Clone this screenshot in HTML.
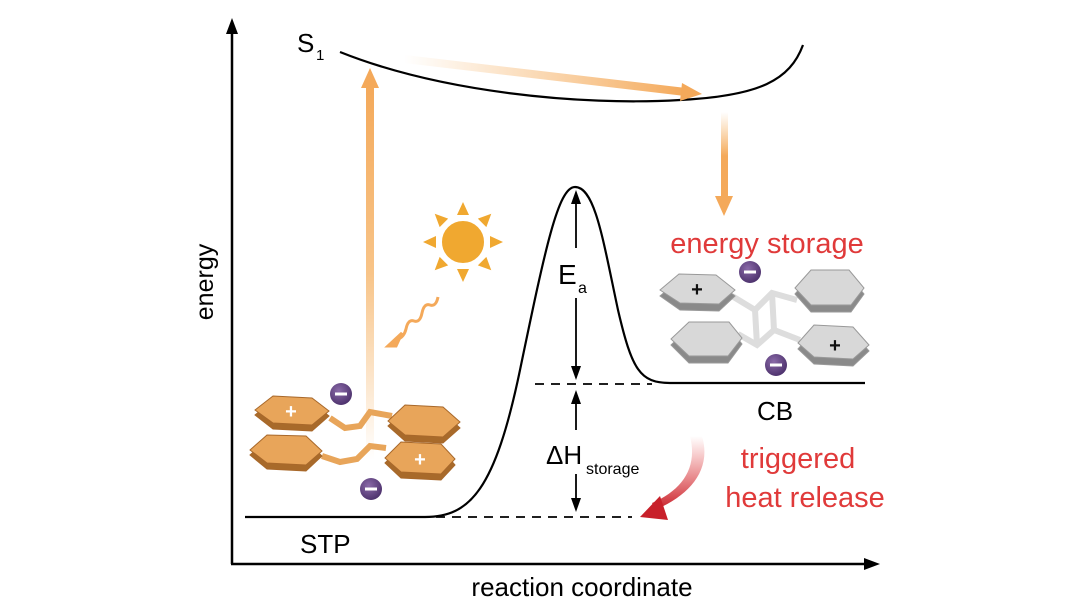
<!DOCTYPE html>
<html><head><meta charset="utf-8"><style>
html,body{margin:0;padding:0;background:#fff;width:1080px;height:608px;overflow:hidden}
svg{display:block}
text{font-family:"Liberation Sans",sans-serif}
</style></head><body>
<svg width="1080" height="608" viewBox="0 0 1080 608" xmlns="http://www.w3.org/2000/svg">
<defs>
<linearGradient id="gv" x1="0" y1="1" x2="0" y2="0"><stop offset="0" stop-color="#f6b56a" stop-opacity="0"/><stop offset="0.5" stop-color="#f6b56a" stop-opacity="0.8"/><stop offset="1" stop-color="#f4a95a"/></linearGradient>
<linearGradient id="gh" x1="0" y1="0" x2="1" y2="0"><stop offset="0" stop-color="#f6b56a" stop-opacity="0"/><stop offset="1" stop-color="#f4a95a"/></linearGradient>
<linearGradient id="gd" x1="0" y1="0" x2="0" y2="1"><stop offset="0" stop-color="#f6b56a" stop-opacity="0"/><stop offset="0.5" stop-color="#f4a95a"/><stop offset="1" stop-color="#f4a95a"/></linearGradient>
<linearGradient id="gr" x1="0" y1="0" x2="0" y2="1"><stop offset="0" stop-color="#e84040" stop-opacity="0"/><stop offset="1" stop-color="#c8202a"/></linearGradient>
<radialGradient id="gm" cx="0.4" cy="0.35" r="0.7"><stop offset="0" stop-color="#8a6aa8"/><stop offset="1" stop-color="#4a2f6a"/></radialGradient>
</defs>
<line x1="232" y1="30" x2="232" y2="564" stroke="#000" stroke-width="2.5"/>
<polygon points="232,18 226,34 238,34" fill="#000"/>
<line x1="231" y1="564" x2="866" y2="564" stroke="#000" stroke-width="2.5"/>
<polygon points="880,564 864,558 864,570" fill="#000"/>
<text x="0" y="0" font-size="25" transform="translate(213,282) rotate(-90)" text-anchor="middle">energy</text>
<text x="582" y="596" font-size="26" text-anchor="middle">reaction coordinate</text>
<text x="297" y="52" font-size="26">S</text><text x="316" y="60" font-size="15">1</text>
<path d="M340,52 C440,92 580,106 680,100 C760,96 790,80 803,45" fill="none" stroke="#000" stroke-width="2.2"/>
<path d="M245,517 L425,517 C470,517 495,490 520,370 C545,250 558,187 575,187 C595,187 603,240 618,310 C632,370 640,383 670,383 L865,383" fill="none" stroke="#000" stroke-width="2.2"/>
<line x1="535" y1="384" x2="652" y2="384" stroke="#000" stroke-width="1.8" stroke-dasharray="9,7"/>
<line x1="436" y1="517" x2="632" y2="517" stroke="#000" stroke-width="1.8" stroke-dasharray="9,7"/>
<g stroke="#000" stroke-width="1.8">
<line x1="576" y1="200" x2="576" y2="248"/><line x1="576" y1="298" x2="576" y2="370"/>
<line x1="576" y1="400" x2="576" y2="430"/><line x1="576" y1="474" x2="576" y2="502"/>
</g>
<g fill="#000">
<polygon points="576,190 571,204 581,204"/><polygon points="576,380 571,366 581,366"/>
<polygon points="576,390 571,404 581,404"/><polygon points="576,512 571,498 581,498"/>
</g>
<text x="558" y="284" font-size="28">E</text><text x="578" y="293" font-size="16">a</text>
<text x="546" y="464" font-size="26">ΔH</text><text x="586" y="474" font-size="16">storage</text>
<rect x="366" y="85" width="8" height="375" fill="url(#gv)"/>
<polygon points="370,68 361,88 379,88" fill="#f4a95a"/>
<polygon points="405,55 686,88 685,96 404,63" fill="url(#gh)"/>
<polygon points="702,94 682,83 680,101" fill="#f4a95a"/>
<rect x="721" y="112" width="7" height="88" fill="url(#gd)"/>
<polygon points="724,216 715,196 733,196" fill="#f4a95a"/>
<g fill="#f0a830">
<circle cx="463" cy="242" r="22" stroke="#fff" stroke-width="2"/>
<g transform="translate(463,242)">
<polygon points="-6,-27 6,-27 0,-40"/><polygon points="-6,27 6,27 0,40"/>
<polygon points="-27,-6 -27,6 -40,0"/><polygon points="27,-6 27,6 40,0"/>
<polygon points="-6,-27 6,-27 0,-40" transform="rotate(45)"/><polygon points="-6,-27 6,-27 0,-40" transform="rotate(135)"/>
<polygon points="-6,-27 6,-27 0,-40" transform="rotate(225)"/><polygon points="-6,-27 6,-27 0,-40" transform="rotate(315)"/>
</g></g>
<path d="M438,297 q-2,10 -8,8 q-6,-2 -8,8 q-2,10 -8,8 q-6,-2 -8,8 q-2,8 -8,10 L398,340" fill="none" stroke="#f4a95a" stroke-width="3"/>
<polygon points="388,346 402,333 396,346" fill="#f4a95a" stroke="#f4a95a" stroke-width="3"/>
<g stroke="#a8682a" stroke-width="1">
<path d="M330,418 L345,428 L360,426 L370,412 L392,416" fill="none" stroke="#e8a55a" stroke-width="6"/>
<path d="M322,456 L340,462 L357,459 L370,446 L386,448" fill="none" stroke="#e8a55a" stroke-width="6"/>
<polygon points="255,415 273,400 312,402 329,416 312,431 273,429" fill="#a86a2a"/>
<polygon points="255,410 273,396 312,398 329,411 312,425 273,423" fill="#e8a55a"/>
<polygon points="388,426 405,410 443,412 460,428 443,443 405,441" fill="#a86a2a"/>
<polygon points="388,421 405,405 443,407 460,422 443,437 405,435" fill="#e8a55a"/>
<polygon points="250,455 267,440 306,441 322,456 306,471 267,469" fill="#a86a2a"/>
<polygon points="250,450 267,435 306,436 322,451 306,465 267,463" fill="#e8a55a"/>
<polygon points="385,463 401,447 441,449 455,465 441,480 401,478" fill="#a86a2a"/>
<polygon points="385,458 401,442 441,444 455,459 441,474 401,472" fill="#e8a55a"/>
</g>
<text x="291" y="418" font-size="20" fill="#fff" text-anchor="middle" font-weight="bold">+</text>
<text x="420" y="466" font-size="20" fill="#fff" text-anchor="middle" font-weight="bold">+</text>
<circle cx="341" cy="394" r="11" fill="url(#gm)"/><rect x="335" y="392.5" width="12" height="3" fill="#fff"/>
<circle cx="371" cy="489" r="11" fill="url(#gm)"/><rect x="365" y="487.5" width="12" height="3" fill="#fff"/>
<g stroke="#999" stroke-width="1">
<path d="M732,296 L755,310 L772,293 L797,300" fill="none" stroke="#ddd" stroke-width="6"/>
<path d="M738,334 L757,345 L774,330 L800,340" fill="none" stroke="#ddd" stroke-width="6"/>
<path d="M755,310 L757,345 M772,293 L774,330" fill="none" stroke="#ddd" stroke-width="6"/>
<polygon points="660,296 679,280 716,281 735,296 719,311 680,310" fill="#8a8a8a"/>
<polygon points="660,290 679,274 716,275 735,290 719,304 680,303" fill="#d8d8d8"/>
<polygon points="795,294 811,276 849,276 864,294 851,312 811,312" fill="#8a8a8a"/>
<polygon points="795,288 811,270 849,270 864,288 851,305 811,305" fill="#d8d8d8"/>
<polygon points="671,345 689,328 729,328 742,344 728,363 689,363" fill="#8a8a8a"/>
<polygon points="671,339 689,322 729,322 742,338 728,356 689,356" fill="#d8d8d8"/>
<polygon points="798,349 814,331 853,333 869,351 853,366 814,364" fill="#8a8a8a"/>
<polygon points="798,343 814,325 853,327 869,345 853,359 814,357" fill="#d8d8d8"/>
</g>
<text x="697" y="296" font-size="20" fill="#111" text-anchor="middle" font-weight="bold">+</text>
<text x="835" y="352" font-size="20" fill="#111" text-anchor="middle" font-weight="bold">+</text>
<circle cx="750" cy="272" r="11" fill="url(#gm)"/><rect x="744" y="270.5" width="12" height="3" fill="#fff"/>
<circle cx="776" cy="365" r="11" fill="url(#gm)"/><rect x="770" y="363.5" width="12" height="3" fill="#fff"/>
<text x="767" y="253" font-size="29" fill="#e03a3a" text-anchor="middle">energy storage</text>
<text x="775" y="420" font-size="26" text-anchor="middle">CB</text>
<text x="300" y="553" font-size="26">STP</text>
<text x="798" y="468" font-size="29" fill="#e03a3a" text-anchor="middle">triggered</text>
<text x="805" y="507" font-size="29" fill="#e03a3a" text-anchor="middle">heat release</text>
<path d="M702,436 C712,470 690,495 655,510 L652,503 C682,490 698,468 690,436 Z" fill="url(#gr)"/>
<polygon points="640,517 660,496 668,520" fill="#c8202a"/>
</svg>
</body></html>
